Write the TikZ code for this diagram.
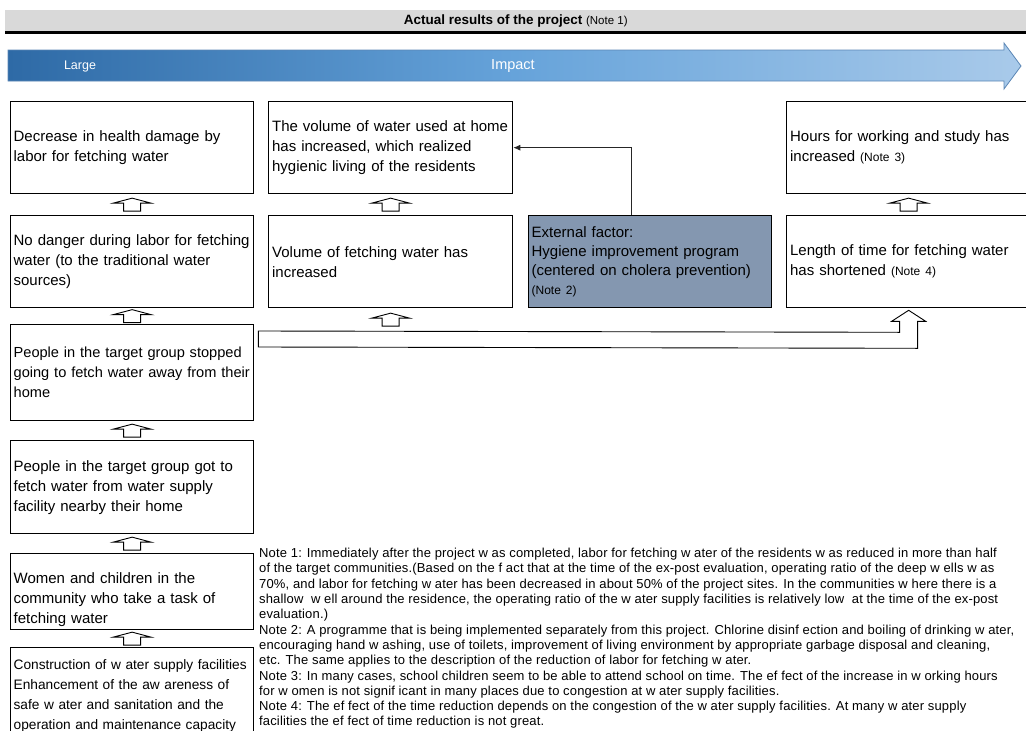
\documentclass[tikz,border=0pt]{standalone}
\usepackage{fontspec}
\setmainfont{Liberation Sans}
\newfontfamily\notefont[LetterSpace=1.2]{Liberation Sans}
\usetikzlibrary{arrows.meta,calc}
\definecolor{hdrgray}{HTML}{D9D9D9}
\definecolor{extfill}{HTML}{8497B0}
\definecolor{arrL}{HTML}{2E6AA6}
\definecolor{arrM}{HTML}{66A3DA}
\definecolor{arrR}{HTML}{A9CAEA}
\definecolor{arrB}{HTML}{5B86B5}
\newcommand\Ln[1]{\leavevmode\hbox{#1}}
\begin{document}
\begin{tikzpicture}[x=1pt,y=-1pt,
  box/.style={draw=black,line width=1.3pt,fill=white,anchor=north west,
    inner xsep=3pt,inner ysep=0pt,align=left,minimum width=243pt,text width=237pt,
    font=\fontsize{15}{20}\selectfont},
  uparrow/.pic={\draw[line width=0.9pt,fill=white] (0,-6.5) -- (19,-1.5) -- (8.5,-1.5)
     -- (8.5,6.5) -- (-8.5,6.5) -- (-8.5,-1.5) -- (-19,-1.5) -- cycle;},
  link/.style={draw=black!85,line width=0.8pt,-{Latex[length=7pt,width=6pt]}},
  notes/.style={anchor=north west,inner sep=0pt,align=left,
    font=\notefont\fontsize{13}{15.3}\selectfont}
]
\useasboundingbox (0,0) rectangle (1026,731);
\clip (0,0) rectangle (1026,731);

% header
\node[fill=hdrgray,anchor=north west,minimum width=1021pt,minimum height=22pt,inner sep=0pt,
  font=\fontsize{13.5}{15}\selectfont] (hdr) at (5,10)
  {\textbf{Actual results of the project} {\fontsize{11.5}{13}\selectfont (Note 1)}};
\draw[line width=2.5pt] (hdr.south west) -- (hdr.south east);

% impact arrow
\shadedraw[draw=arrB,line width=0.8pt,left color=arrL,right color=arrR,middle color=arrM]
  (8,50) -- (1004,50) -- (1004,43) -- (1021,66) -- (1004,89) -- (1004,81) -- (8,81) -- cycle;
\node[text=white,font=\fontsize{12.5}{14}\selectfont] (large) at (80,66) {Large};
\node[text=white,font=\fontsize{14.5}{16}\selectfont] (impact) at (513,66) {Impact};

% row 1
\node[box,minimum height=92pt] (A1) at (10,101) {\Ln{Decrease in health damage by}\\\Ln{labor for fetching water}};
\node[box,minimum height=92pt,minimum width=244pt] (A2) at (268,101) {\Ln{The volume of water used at home}\\\Ln{has increased, which realized}\\\Ln{hygienic living of the residents}};
\node[box,minimum height=92pt,minimum width=244pt] (A4) at (786,101) {\Ln{Hours for working and study has}\\\Ln{increased {\fontsize{12}{14}\selectfont (Note 3)}}};

% row 2
\node[box,minimum height=92pt] (B1) at (10,215) {\Ln{No danger during labor for fetching}\\\Ln{water (to the traditional water}\\\Ln{sources)}};
\node[box,minimum height=92pt,minimum width=244pt] (B2) at (268,215) {\Ln{Volume of fetching water has}\\\Ln{increased}};
\node[box,minimum height=92pt,minimum width=241pt,fill=extfill,font=\fontsize{15}{19}\selectfont] (B3) at (528,215) {\Ln{External factor:}\\\Ln{Hygiene improvement program}\\\Ln{(centered on cholera prevention)}\\\Ln{\fontsize{12}{14}\selectfont (Note 2)}};
\node[box,minimum height=92pt,minimum width=244pt] (B4) at (786,215) {\Ln{Length of time for fetching water}\\\Ln{has shortened {\fontsize{12}{14}\selectfont (Note 4)}}};

% left column
\node[box,minimum height=96pt,font=\fontsize{14.6}{20}\selectfont] (C1) at (10,324) {\Ln{People in the target group stopped}\\\Ln{going to fetch water away from their}\\\Ln{home}};
\node[box,minimum height=93pt] (D1) at (10,440) {\Ln{People in the target group got to}\\\Ln{fetch water from water supply}\\\Ln{facility nearby their home}};
\node[box,minimum height=76pt] (D2) at (10,553) {\Ln{\rule{0pt}{27pt}Women and children in the}\\\Ln{community who take a task of}\\\Ln{fetching water}};
\node[box,minimum height=96pt,font=\fontsize{13.7}{20}\selectfont] (D3) at (10,647) {\Ln{Construction of w ater supply facilities}\\\Ln{Enhancement of the aw areness of}\\\Ln{safe w ater and sanitation and the}\\\Ln{operation and maintenance capacity}};

% block up arrows
\pic at ($(A1.south)!0.5!(B1.north)$) {uparrow};
\pic at ($(B1.south)!0.5!(C1.north)$) {uparrow};
\pic at ($(C1.south)!0.5!(D1.north)$) {uparrow};
\pic at ($(D1.south)!0.5!(D2.north)$) {uparrow};
\pic at ($(D2.south)!0.5!(D3.north)$) {uparrow};
\pic at ($(A2.south)!0.5!(B2.north)$) {uparrow};
\pic at ($(A4.south)!0.5!(B4.north)$) {uparrow};

% bent block arrow from C1 to B4
\coordinate (ba) at ($(C1.north east)+(4,7)$);
\coordinate (tip) at ($(B4.south)+(0,2)$);
\draw[line width=0.9pt,fill=white] (ba) -- ($(tip)+(-9,22)$) -- ($(tip)+(-9,11)$) -- ($(tip)+(-17,11)$)
  -- (tip) -- ($(tip)+(17,11)$) -- ($(tip)+(9,11)$) -- ($(tip)+(9,38)$) -- ($(ba)+(0,16)$) -- cycle;
\pic at ($(B2.south)!0.5!(B2.south|-ba)$) {uparrow};

% external factor link
\draw[link] ($(B3.north)+(-19,0)$) |- (A2.east);

% notes
\node[notes] (notes) at (259,548) {Note 1: Immediately after the project w as completed, labor for fetching w ater of the residents w as reduced in more than half\\
of the target communities.(Based on the f act that at the time of the ex-post evaluation, operating ratio of the deep w ells w as\\
70\%, and labor for fetching w ater has been decreased in about 50\% of the project sites. In the communities w here there is a\\
shallow\ \ w ell around the residence, the operating ratio of the w ater supply facilities is relatively low\ \ at the time of the ex-post\\
evaluation.)\\
Note 2: A programme that is being implemented separately from this project. Chlorine disinf ection and boiling of drinking w ater,\\
encouraging hand w ashing, use of toilets, improvement of living environment by appropriate garbage disposal and cleaning,\\
etc. The same applies to the description of the reduction of labor for fetching w ater.\\
Note 3: In many cases, school children seem to be able to attend school on time. The ef fect of the increase in w orking hours\\
for w omen is not signif icant in many places due to congestion at w ater supply facilities.\\
Note 4: The ef fect of the time reduction depends on the congestion of the w ater supply facilities. At many w ater supply\\
facilities the ef fect of time reduction is not great.};
\end{tikzpicture}
\end{document}
